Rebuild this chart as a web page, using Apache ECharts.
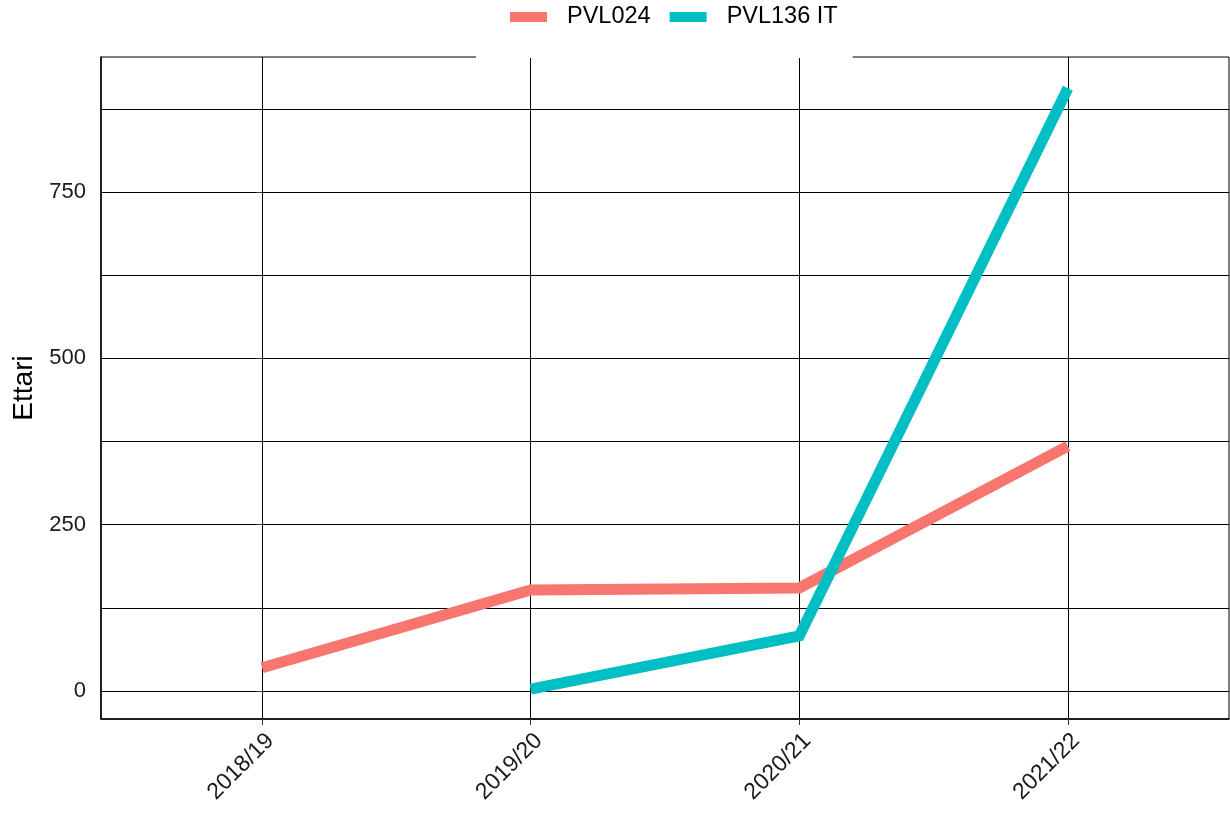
<!DOCTYPE html>
<html>
<head>
<meta charset="utf-8">
<script src="https://cdn.jsdelivr.net/npm/echarts@6/dist/echarts.min.js"></script>
<style>html,body{margin:0;padding:0;background:#fff;}#c{width:1230px;height:819px;}</style>
</head>
<body>
<div id="c"></div>
<script>
const categories = ['2018/19', '2019/20', '2020/21', '2021/22'];
const seriesNames = ['PVL024', 'PVL136 IT'];
const pvl024 = [35, 152, 155, 368];
const pvl136 = [null, 3, 83, 906];
const yTickLabels = [0, 250, 500, 750];
const yGridValues = [0, 125, 250, 375, 500, 625, 750, 875];
const colors = ['#F8766D', '#00BFC4'];

function toPairs(arr) {
  const out = [];
  arr.forEach((v, i) => { if (v !== null) out.push([i, v]); });
  return out;
}
const catIdx = categories.map((c, i) => i);
const font = 'Liberation Sans, Arial, sans-serif';

const chart = echarts.init(document.getElementById('c'));
chart.setOption({
  animation: false,
  backgroundColor: '#fff',
  color: colors,
  legend: {
    top: 0,
    left: 476,
    backgroundColor: '#fff',
    padding: [5, 15, 29, 34],
    icon: 'rect',
    itemWidth: 37,
    itemHeight: 10,
    itemGap: 19,
    textStyle: { fontFamily: font, fontSize: 23.5, color: '#000', padding: [0, 0, 0, 15] },
    data: seriesNames,
    z: 10
  },
  grid: {
    left: 101, right: 1, top: 57, bottom: 100,
    show: true, borderColor: '#000', borderWidth: 1
  },
  xAxis: {
    type: 'value',
    min: -0.6, max: 3.6,
    axisLine: { show: true, onZero: false, lineStyle: { color: '#000', width: 1.5 } },
    axisTick: { show: true, length: 6, customValues: catIdx, lineStyle: { color: '#333' } },
    axisLabel: {
      customValues: catIdx,
      rotate: 45,
      margin: 10,
      verticalAlign: 'top',
      fontFamily: font, fontSize: 23, color: '#1a1a1a',
      formatter: v => categories[Math.round(v)] || ''
    },
    splitLine: { show: true, lineStyle: { color: '#000', width: 1 } }
  },
  yAxis: [{
    type: 'value',
    min: -42, max: 953,
    name: 'Ettari',
    nameLocation: 'middle',
    nameGap: 62,
    nameRotate: 90,
    nameTextStyle: { fontFamily: font, fontSize: 28, color: '#000' },
    axisLine: { show: true, onZero: false, lineStyle: { color: '#000', width: 1.5 } },
    axisTick: { show: false, customValues: yGridValues },
    axisLabel: {
      customValues: yTickLabels,
      margin: 15,
      fontFamily: font, fontSize: 22, color: '#1a1a1a'
    },
    splitLine: { show: true, lineStyle: { color: '#000', width: 1 } }
  }, {
    type: 'value',
    position: 'left',
    min: -42, max: 953,
    axisLine: { show: false },
    axisTick: { show: true, length: 6, customValues: yTickLabels, lineStyle: { color: '#333' } },
    axisLabel: { show: false },
    splitLine: { show: false }
  }],
  series: [{
    name: seriesNames[0],
    type: 'line',
    data: toPairs(pvl024),
    symbol: 'none',
    lineStyle: { width: 11, cap: 'butt', join: 'miter', color: colors[0] },
    itemStyle: { color: colors[0] },
    z: 3
  }, {
    name: seriesNames[1],
    type: 'line',
    data: toPairs(pvl136),
    symbol: 'none',
    lineStyle: { width: 11, cap: 'butt', join: 'miter', color: colors[1] },
    itemStyle: { color: colors[1] },
    z: 4
  }]
});
</script>
</body>
</html>
